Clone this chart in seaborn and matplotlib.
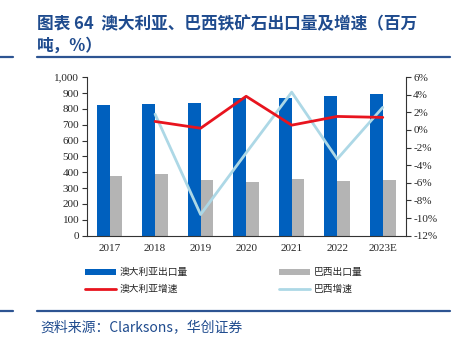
import numpy as np
import pandas as pd
import matplotlib
matplotlib.use("Agg")
import matplotlib.pyplot as plt
import seaborn as sns
from matplotlib.lines import Line2D
from matplotlib.patches import Patch

years = ["2017", "2018", "2019", "2020", "2021", "2022", "2023E"]
au_export = [825, 833, 836, 867, 871, 884, 896]
br_export = [379, 388, 350, 341, 358, 343, 354]
au_growth = [np.nan, 0.97, 0.2, 3.83, 0.55, 1.54, 1.43]
br_growth = [np.nan, 1.8, -9.6, -2.6, 4.3, -3.3, 2.57]
left_ticks = [0, 100, 200, 300, 400, 500, 600, 700, 800, 900, 1000]
right_ticks = [-12, -10, -8, -6, -4, -2, 0, 2, 4, 6]

sns.set_style("white")
plt.rcParams['font.family'] = ['Noto Sans CJK SC', 'DejaVu Sans']

C_AU = "#0060be"
C_BR = "#b4b4b4"
C_AUG = "#e8141e"
C_BRG = "#add8e6"
NAVY = "#1f4b8e"
SERIF = "Liberation Serif"

fig = plt.figure(figsize=(4.64, 3.40), dpi=100)
ax = fig.add_axes([0.187, 0.307, 0.687, 0.466])

df = pd.DataFrame({
    "year": years * 2,
    "value": au_export + br_export,
    "series": ["澳大利亚出口量"] * len(years) + ["巴西出口量"] * len(years),
})
sns.barplot(data=df, x="year", y="value", hue="series", order=years,
            palette=[C_AU, C_BR], width=0.56, ax=ax, legend=False,
            saturation=1, linewidth=0)
ax.set_xlim(-0.5, len(years) - 0.5)
ax.set_ylim(0, 1000)
ax.set_yticks(left_ticks)
ax.set_yticklabels([f"{v:,}" for v in left_ticks], fontfamily=SERIF, fontsize=8)
ax.set_xlabel("")
ax.set_ylabel("")
ax.set_xticks(range(len(years)))
ax.set_xticklabels(years, fontfamily=SERIF, fontsize=8)
ax.set_xticks(np.arange(-0.5, len(years)), minor=True)
ax.tick_params(axis="x", which="major", length=0, pad=6)
ax.tick_params(axis="x", which="minor", length=3.5, width=0.8, direction="out", color="#333333")
ax.tick_params(axis="y", length=3.5, width=0.8, direction="out", color="#333333", pad=2)
for s in ["top", "right"]:
    ax.spines[s].set_visible(False)
for s in ["left", "bottom"]:
    ax.spines[s].set_color("#333333")
    ax.spines[s].set_linewidth(0.8)

ax2 = ax.twinx()
xpos = list(range(len(years)))
ldf = pd.DataFrame({"x": xpos, "au": au_growth, "br": br_growth})
sns.lineplot(data=ldf, x="x", y="br", ax=ax2, color=C_BRG, linewidth=2)
sns.lineplot(data=ldf, x="x", y="au", ax=ax2, color=C_AUG, linewidth=2)
ax2.set_ylim(-12, 6)
ax2.set_yticks(right_ticks)
ax2.set_yticklabels([f"{v}%" for v in right_ticks], fontfamily=SERIF, fontsize=8)
ax2.set_xlim(-0.5, len(years) - 0.5)
ax2.set_xlabel("")
ax2.set_ylabel("")
ax2.tick_params(axis="y", length=3.5, width=0.8, direction="out", color="#333333", pad=2)
for s in ["top", "left", "bottom"]:
    ax2.spines[s].set_visible(False)
ax2.spines["right"].set_color("#333333")
ax2.spines["right"].set_linewidth(0.8)

handles = [
    Patch(facecolor=C_AU, edgecolor="none"),
    Line2D([], [], color=C_AUG, linewidth=2),
    Patch(facecolor=C_BR, edgecolor="none"),
    Line2D([], [], color=C_BRG, linewidth=2),
]
labels = ["澳大利亚出口量", "澳大利亚增速", "巴西出口量", "巴西增速"]
leg = fig.legend(handles, labels, ncol=2, loc="upper left",
                 bbox_to_anchor=(0.175, 0.225), frameon=False,
                 prop={"family": ["Noto Sans CJK SC"], "size": 7},
                 handlelength=3.2, handleheight=0.5, handletextpad=0.4,
                 columnspacing=9.3, labelspacing=0.7, borderaxespad=0)

# Title
fig.text(37 / 464, 1 - 24 / 340, "图表 64  澳大利亚、巴西铁矿石出口量及增速（百万",
         color=NAVY, fontsize=12, fontweight="bold", va="center", ha="left")
fig.text(37 / 464, 1 - 46 / 340, "吨，%）",
         color=NAVY, fontsize=12, fontweight="bold", va="center", ha="left")
# Rules
fig.add_artist(Line2D([37 / 464, 450 / 464], [1 - 56.5 / 340] * 2, color="#2d5492", linewidth=1.6))
fig.add_artist(Line2D([0, 13 / 464], [1 - 56.5 / 340] * 2, color="#2d5492", linewidth=1.6))
fig.add_artist(Line2D([37 / 464, 450 / 464], [1 - 311 / 340] * 2, color="#2d5492", linewidth=1.6))
fig.add_artist(Line2D([0, 13 / 464], [1 - 311 / 340] * 2, color="#2d5492", linewidth=1.6))
# Source
fig.text(40 / 464, 1 - 327 / 340, "资料来源：Clarksons，华创证券",
         color=NAVY, fontsize=10, style="italic", va="center", ha="left",
         family=["Noto Sans CJK SC", "DejaVu Sans"])

fig.savefig("out.png", dpi=100)
